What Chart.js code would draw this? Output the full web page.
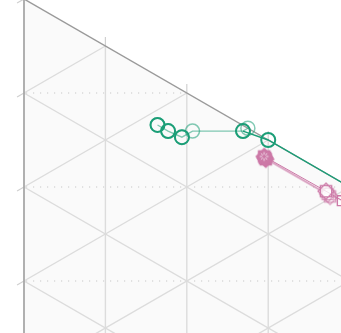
<!DOCTYPE html>
<html>
<head>
<meta charset="utf-8">
<script src="https://cdn.jsdelivr.net/npm/chart.js@4"></script>
<style>
  html, body { margin: 0; padding: 0; background: #ffffff; }
  #wrap { width: 341px; height: 333px; }
</style>
</head>
<body>
<div id="wrap"><canvas id="ternChart" width="341" height="333"></canvas></div>
<script>
// ternary values (a = top vertex, b = bottom vertex, c = right vertex)
var greenDarkA = [0.784, 0.771, 0.756];
var greenDarkB = [0.052, 0.052, 0.050];
var greenDarkC = [0.164, 0.177, 0.194];

var greenEdgeA = [0.725, 0.700, 0.550];
var greenEdgeB = [0.006, 0.000, 0.000];
var greenEdgeC = [0.269, 0.300, 0.450];

var greenLightA = [0.784, 0.771, 0.756, 0.756, 0.725, 0.725];
var greenLightB = [0.052, 0.052, 0.050, 0.037, 0.006, 0.000];
var greenLightC = [0.164, 0.177, 0.194, 0.207, 0.269, 0.275];

var pink1B = [0.020, 0.019, 0.019];
var pink1C = [0.295, 0.371, 0.401];
var pink2B = [0.021, 0.021, 0.019];
var pink2C = [0.296, 0.373, 0.391];
var pink3B = [0.022, 0.022];
var pink3C = [0.297, 0.376];

var gridSteps = [0.1, 0.2, 0.3, 0.4, 0.5, 0.6, 0.7, 0.8, 0.9];
var edgeTicks = [0, 0.1, 0.2, 0.3, 0.4, 0.5, 0.6, 0.7, 0.8, 0.9];

var S3 = Math.sqrt(3) / 2;
var green = "#1b9e77";
var greenLight = "rgba(27, 158, 119, 0.55)";
var pink = "#cc79a7";

function toXY(a, b, c) {
  return { x: c * S3, y: a + c / 2 };
}
function points(A, B, C) {
  var out = [];
  for (var i = 0; i < C.length; i++) {
    var a = A ? A[i] : 1 - B[i] - C[i];
    out.push(toXY(a, B[i], C[i]));
  }
  return out;
}

function makeStar(filled, color) {
  var cv = document.createElement("canvas");
  cv.width = 20;
  cv.height = 20;
  var g = cv.getContext("2d");
  var r = 8;
  function shape(rot) {
    g.beginPath();
    for (var k = 0; k < 4; k++) {
      var ang = rot + Math.PI / 4 + k * Math.PI / 2;
      var px = 10 + r * Math.cos(ang), py = 10 + r * Math.sin(ang);
      if (k === 0) g.moveTo(px, py); else g.lineTo(px, py);
    }
    g.closePath();
  }
  g.lineWidth = 1.3;
  g.strokeStyle = color;
  if (filled) {
    g.fillStyle = color;
    shape(0); g.fill(); g.stroke();
    shape(Math.PI / 4); g.fill(); g.stroke();
    g.strokeStyle = "rgba(255,255,255,0.85)";
    g.lineWidth = 0.9;
    for (var j = 0; j < 8; j++) {
      var t = j * Math.PI / 4;
      g.beginPath();
      g.moveTo(10 + 1.8 * Math.cos(t), 10 + 1.8 * Math.sin(t));
      g.lineTo(10 + 4.4 * Math.cos(t), 10 + 4.4 * Math.sin(t));
      g.stroke();
    }
  } else {
    g.fillStyle = "rgba(255,255,255,0.5)";
    shape(0); g.fill();
    shape(Math.PI / 4); g.fill();
    shape(0); g.stroke();
    shape(Math.PI / 4); g.stroke();
  }
  return cv;
}
var starFull = makeStar(true, pink);
var starOpen = makeStar(false, pink);
var starOpenLight = makeStar(false, "rgba(204,121,167,0.7)");

var ternaryGrid = {
  id: "ternaryGrid",
  beforeDatasetsDraw: function (chart) {
    var ctx = chart.ctx;
    var xs = chart.scales.x, ys = chart.scales.y;
    function P(a, b, c) {
      var q = toXY(a, b, c);
      return [xs.getPixelForValue(q.x), ys.getPixelForValue(q.y)];
    }
    var A = P(1, 0, 0), B = P(0, 1, 0), C = P(0, 0, 1);
    function tri() {
      ctx.beginPath();
      ctx.moveTo(A[0], A[1]);
      ctx.lineTo(B[0], B[1]);
      ctx.lineTo(C[0], C[1]);
      ctx.closePath();
    }
    function seg(p, q) {
      ctx.beginPath();
      ctx.moveTo(p[0], p[1]);
      ctx.lineTo(q[0], q[1]);
      ctx.stroke();
    }
    ctx.save();
    tri();
    ctx.fillStyle = "#fafafa";
    ctx.fill();
    tri();
    ctx.clip();

    // dotted rows
    ctx.strokeStyle = "#c8c8c8";
    ctx.lineWidth = 1.2;
    ctx.setLineDash([1.2, 5.8]);
    edgeTicks.forEach(function (t) {
      var p = P(1 - t, t, 0);
      seg([p[0] + 2, p[1]], [C[0], p[1]]);
    });
    ctx.setLineDash([]);

    ctx.strokeStyle = "#dcdcdc";
    ctx.lineWidth = 1.4;
    gridSteps.forEach(function (t) {
      seg(P(1 - t, 0, t), P(0, 1 - t, t));
      seg(P(1 - t, t, 0), P(0, t, 1 - t));
      seg(P(t, 1 - t, 0), P(t, 0, 1 - t));
    });
    ctx.restore();

    // ticks outside the edges
    ctx.save();
    ctx.strokeStyle = "#d0d0d0";
    ctx.lineWidth = 1.2;
    edgeTicks.forEach(function (t) {
      var p = P(1 - t, t, 0);
      seg(p, [p[0] - 8 * S3, p[1] + 4]);
      if (t > 0) {
        var q = P(1 - t, 0, t);
        seg(q, [q[0], q[1] - 9]);
      }
    });
    ctx.strokeStyle = "#9a9a9a";
    ctx.lineWidth = 1.4;
    seg(A, C);
    ctx.strokeStyle = "#a8a8a8";
    ctx.lineWidth = 1.8;
    seg(A, B);
    ctx.restore();
  }
};

new Chart(document.getElementById("ternChart"), {
  type: "scatter",
  data: {
    datasets: [
      {
        data: points(greenDarkA, greenDarkB, greenDarkC),
        showLine: false,
        pointStyle: "circle",
        pointRadius: 7,
        pointBorderWidth: 2,
        pointBorderColor: green,
        pointBackgroundColor: "transparent",
      },
      {
        data: points(greenEdgeA, greenEdgeB, greenEdgeC),
        showLine: true,
        borderColor: green,
        borderWidth: 1.4,
        pointStyle: "circle",
        pointRadius: 7,
        pointBorderWidth: 2,
        pointBorderColor: green,
        pointBackgroundColor: "transparent",
      },
      {
        data: points(greenLightA, greenLightB, greenLightC),
        showLine: true,
        borderColor: greenLight,
        borderWidth: 1.3,
        pointStyle: "circle",
        pointRadius: 7,
        pointBorderWidth: 1.5,
        pointBorderColor: greenLight,
        pointBackgroundColor: "transparent",
      },
      {
        data: points(null, pink1B, pink1C),
        showLine: true,
        borderColor: pink,
        borderWidth: 1,
        pointStyle: [starFull, starOpen, starOpen],
      },
      {
        data: points(null, pink2B, pink2C),
        showLine: true,
        borderColor: "rgba(204,121,167,0.6)",
        borderWidth: 1.4,
        pointStyle: [starFull, starOpenLight, "rect"],
        pointRadius: 7,
        pointBorderColor: pink,
        pointBackgroundColor: "rgba(255,255,255,0.5)",
      },
      {
        data: points(null, pink3B, pink3C),
        showLine: true,
        borderColor: "rgba(204,121,167,0.4)",
        borderWidth: 1.4,
        pointStyle: [starFull, starOpenLight],
      },
    ],
  },
  options: {
    responsive: false,
    animation: false,
    layout: { padding: 0, autoPadding: false },
    elements: { line: { tension: 0 } },
    scales: {
      x: { type: "linear", display: false, min: -24 / 940, max: 317 / 940 },
      y: { type: "linear", display: false, min: 1 - 334 / 940, max: 1 - 1 / 940 },
    },
    plugins: {
      legend: { display: false },
      tooltip: { enabled: false },
    },
  },
  plugins: [ternaryGrid],
});
</script>
</body>
</html>
